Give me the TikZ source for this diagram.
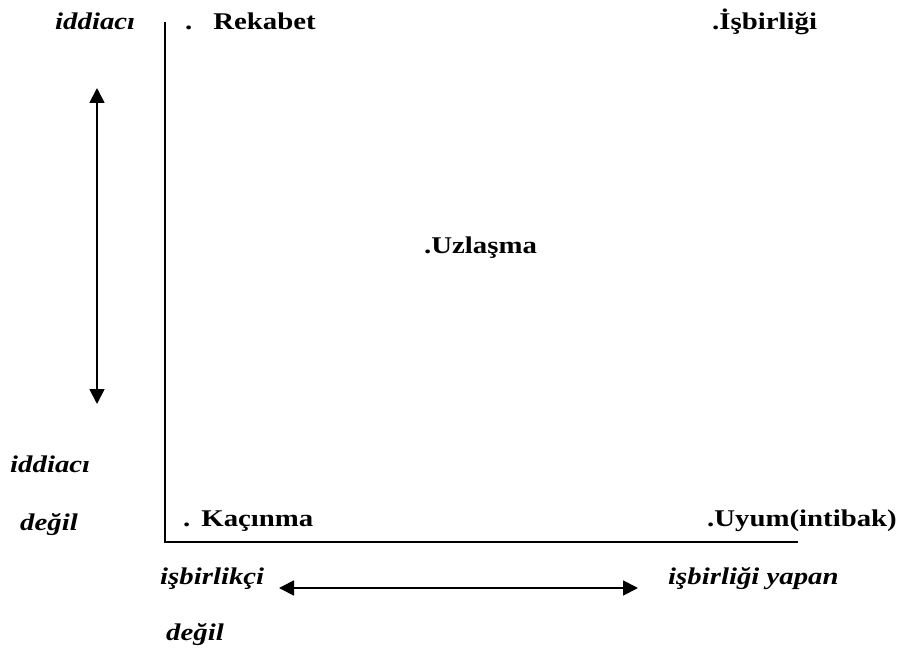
\documentclass[tikz,border=0pt]{standalone}
\usepackage{fontspec}
\setmainfont{Liberation Serif}[FakeStretch=1.2]
\usetikzlibrary{arrows.meta}
\begin{document}
\begin{tikzpicture}[x=1pt,y=-1pt,
  lbl/.style={anchor=base west,inner sep=0pt,font=\fontsize{24}{28}\selectfont\bfseries},
  ital/.style={lbl,font=\fontsize{24}{28}\selectfont\bfseries\itshape},
  axis/.style={line width=2pt},
  dirarrow/.style={line width=1.8pt,{Triangle[length=15pt,width=15pt]}-{Triangle[length=15pt,width=15pt]}}]
\useasboundingbox (0,0) rectangle (905,650);
% axes
\coordinate (top) at (165,22);
\coordinate (origin) at (165,542);
\coordinate (right) at (798,542);
\draw[axis] (top) -- (origin) -- (right);
% strategy labels
\node[lbl] (rek) at (185,30) {.\hspace{21pt}Rekabet};
\node[lbl] (isb) at (712,30) {.İşbirliği};
\node[lbl] (uzl) at (424,253) {.Uzlaşma};
\node[lbl] (kac) at (183,526) {.\hspace{11pt}Kaçınma};
\node[lbl] (uyum) at (707,526) {.Uyum(intibak)};
% vertical dimension
\node[ital] (idd1) at (55,30) {iddiacı};
\node[ital] (idd2) at (10,472) {iddiacı};
\node[ital] (deg1) at (20,530) {değil};
\coordinate (vtop) at (97,88);
\coordinate (vbot) at (97,404);
\draw[dirarrow] (vtop) -- (vbot);
% horizontal dimension
\node[ital] (isbk) at (160,584) {işbirlikçi};
\node[ital] (isby) at (668,584) {işbirliği yapan};
\node[ital] (deg2) at (166,640) {değil};
\coordinate (hl) at (279,588);
\coordinate (hr) at (638,588);
\draw[dirarrow] (hl) -- (hr);
\end{tikzpicture}
\end{document}
